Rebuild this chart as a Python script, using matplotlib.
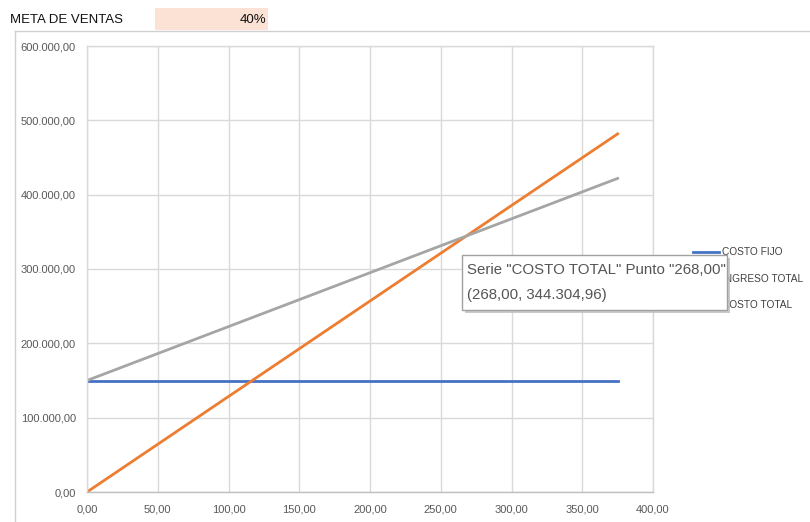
import matplotlib
matplotlib.use("Agg")
import matplotlib.pyplot as plt
from matplotlib.lines import Line2D
from matplotlib.patches import Rectangle
from matplotlib.ticker import FuncFormatter

plt.rcParams['font.family'] = ['Liberation Sans', 'DejaVu Sans']

# ---- data ----
unidades = [0, 50, 100, 150, 200, 250, 268, 300, 350, 375]
costo_fijo = [150000, 150000, 150000, 150000, 150000, 150000, 150000, 150000, 150000, 150000]
ingreso_total = [0, 64236, 128472, 192708, 256944, 321180, 344305, 385416, 449652, 481770]
costo_total = [150000, 186251, 222502, 258753, 295004, 331255, 344305, 367506, 403757, 421883]
series_names = ["COSTO FIJO", "INGRESO TOTAL", "COSTO TOTAL"]
series_colors = ["#4472C4", "#ED7D31", "#A5A5A5"]
x_ticks = [0, 50, 100, 150, 200, 250, 300, 350, 400]
y_ticks = [0, 100000, 200000, 300000, 400000, 500000, 600000]
meta_label = "META DE VENTAS"
meta_value = "40%"
tooltip_lines = ['Serie "COSTO TOTAL" Punto "268,00"', '(268,00, 344.304,96)']

W, H = 810, 522
fig = plt.figure(figsize=(W / 100, H / 100), dpi=100)
fig.patch.set_facecolor("white")

def fx(px):
    return px / W

def fy(py):
    return 1 - py / H

# chart area border (top & left)
fig.add_artist(Line2D([fx(15), fx(810)], [fy(31), fy(31)], color="#d0d0d0", lw=1))
fig.add_artist(Line2D([fx(15), fx(15)], [fy(31), fy(522)], color="#d0d0d0", lw=1))

# header
fig.add_artist(Rectangle((fx(155), fy(30)), fx(268) - fx(155), fy(8) - fy(30),
                         facecolor="#FBE2D5", edgecolor="none"))
fig.text(fx(10), fy(20), meta_label, fontsize=9.5, color="#111111", va="center", ha="left")
fig.text(fx(266), fy(20), meta_value, fontsize=9.5, color="#111111", va="center", ha="right")

# plot area
ax = fig.add_axes([fx(87), fy(492), fx(653) - fx(87), fy(46) - fy(492)])
ax.plot(unidades, costo_fijo, color=series_colors[0], lw=2, label=series_names[0])
ax.plot(unidades, ingreso_total, color=series_colors[1], lw=2, label=series_names[1])
ax.plot(unidades, costo_total, color=series_colors[2], lw=2, label=series_names[2])

ax.set_xlim(0, 400)
ax.set_ylim(0, 600000)
ax.set_xticks(x_ticks)
ax.set_yticks(y_ticks)

def fmt_num(v):
    s = f"{v:,.2f}"
    return s.replace(",", "X").replace(".", ",").replace("X", ".")

ax.xaxis.set_major_formatter(FuncFormatter(lambda v, p: fmt_num(v)))
ax.yaxis.set_major_formatter(FuncFormatter(lambda v, p: fmt_num(v)))
ax.tick_params(axis="both", length=0, labelsize=8, colors="#595959")
ax.tick_params(axis="x", pad=9)
ax.tick_params(axis="y", pad=8)
ax.grid(True, color="#d9d9d9", lw=1)
ax.set_axisbelow(True)
for s in ax.spines.values():
    s.set_color("#d9d9d9")
    s.set_linewidth(1)
ax.spines["bottom"].set_color("#bfbfbf")

# legend (manual)
leg_y = [252, 279, 305]
for name, col, yy in zip(series_names, series_colors, leg_y):
    fig.add_artist(Line2D([fx(693), fx(719)], [fy(yy), fy(yy)], color=col, lw=2))
    fig.text(fx(722), fy(yy), name, fontsize=7.3, color="#404040", va="center", ha="left")

# tooltip
shadow = Rectangle((fx(465), fy(313)), fx(727) - fx(462), fy(255) - fy(310),
                   facecolor="#bdbdbd", edgecolor="none", zorder=10, alpha=0.8)
fig.add_artist(shadow)
box = Rectangle((fx(462), fy(310)), fx(727) - fx(462), fy(255) - fy(310),
                facecolor="white", edgecolor="#a0a0a0", lw=1, zorder=11)
fig.add_artist(box)
fig.text(fx(467), fy(270), tooltip_lines[0], fontsize=10.8, color="#555555",
         va="center", ha="left", zorder=12)
fig.text(fx(467), fy(295), tooltip_lines[1], fontsize=10.8, color="#555555",
         va="center", ha="left", zorder=12)

fig.savefig("out.png", dpi=100)
